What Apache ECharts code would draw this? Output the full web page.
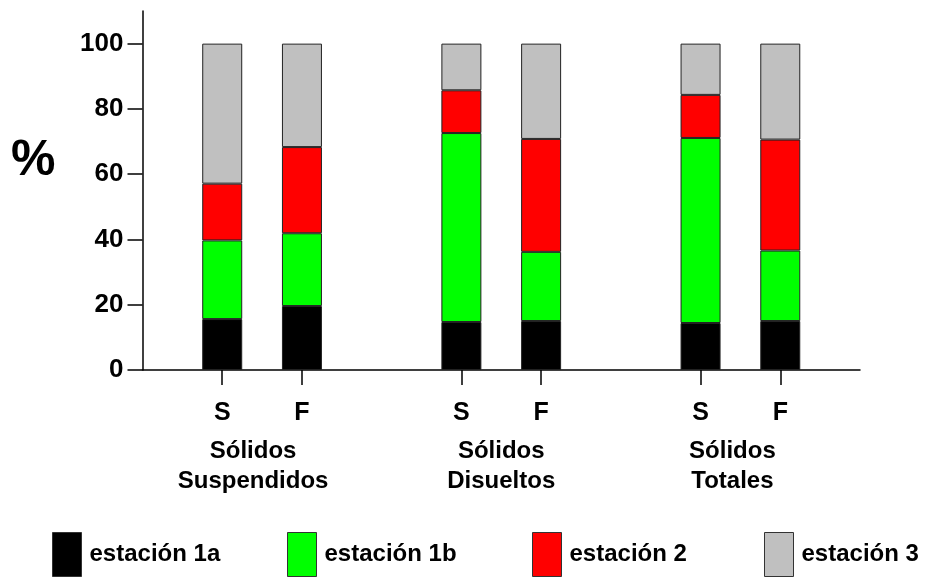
<!DOCTYPE html>
<html>
<head>
<meta charset="utf-8">
<script src="https://cdn.jsdelivr.net/npm/echarts@6/dist/echarts.min.js"></script>
<style>html,body{margin:0;padding:0;background:#fff}#c{width:928px;height:577px}</style>
</head>
<body>
<div id="c"></div>
<script>
// ---- data ----
const groups = ['Sólidos\nSuspendidos', 'Sólidos\nDisueltos', 'Sólidos\nTotales'];
const barLabels = ['S', 'F', 'S', 'F', 'S', 'F'];
const seriesNames = ['estación 1a', 'estación 1b', 'estación 2', 'estación 3'];
const est1a = [15.6, 19.6, 14.7, 15.0, 14.4, 15.0];
const est1b = [24.1, 22.3, 57.9, 21.2, 56.7, 21.6];
const est2  = [17.4, 26.4, 13.1, 34.6, 13.2, 34.0];
const est3  = [42.9, 31.7, 14.3, 29.2, 15.7, 29.4];
const yTicks = [0, 20, 40, 60, 80, 100];
const colors = ['#000000', '#00ff00', '#ff0000', '#c0c0c0'];

// ---- build padded category layout (gap slot between groups) ----
const perGroup = barLabels.length / groups.length;
const cats = [];
const groupCats = [];
const idxMap = [];
groups.forEach((g, gi) => {
  cats.push('');
  groupCats.push('', g, '');
  for (let k = 0; k < perGroup; k++) {
    idxMap.push(cats.length);
    cats.push(barLabels[gi * perGroup + k]);
  }
});
cats.push('');
function pad(arr) {
  const out = cats.map(() => null);
  arr.forEach((v, i) => { out[idxMap[i]] = v; });
  return out;
}
const allData = [est1a, est1b, est2, est3];
const FF = '"Liberation Sans", Arial, sans-serif';
// per-group label nudge (right padding shifts the centred block left)
const groupNudge = [18, 0, 16];

const chart = echarts.init(document.getElementById('c'), null, { renderer: 'canvas' });
const legendLefts = [47, 282, 527, 759];
const groupRich = {};
groupNudge.forEach((p, i) => {
  groupRich['g' + i] = { fontFamily: FF, fontWeight: 'bold', fontSize: 24, color: '#000', lineHeight: 30, padding: [0, p, 0, 0] };
});
chart.setOption({
  animation: false,
  backgroundColor: '#ffffff',
  title: {
    text: '%', left: 6, top: 131,
    textStyle: { fontFamily: FF, fontWeight: 'bold', fontSize: 50, color: '#000' }
  },
  legend: seriesNames.map((n, i) => ({
    data: [n], left: legendLefts[i], top: 527,
    itemWidth: 29, itemHeight: 44, icon: 'rect',
    itemStyle: { borderColor: '#333', borderWidth: 1 },
    textStyle: { fontFamily: FF, fontWeight: 'bold', fontSize: 24, color: '#000', padding: [0, 0, 0, 3] },
    selectedMode: false
  })),
  grid: { left: 142.5, right: 68, top: 11, bottom: 207, containLabel: false },
  xAxis: [
    {
      type: 'category', data: cats, boundaryGap: false,
      axisLine: { lineStyle: { color: '#000', width: 1.5 } },
      axisTick: { length: 15, interval: (i, v) => v !== '', lineStyle: { color: '#000', width: 1.5 } },
      axisLabel: { interval: 0, margin: 31, fontFamily: FF, fontWeight: 'bold', fontSize: 25, color: '#000' },
      splitLine: { show: false }
    },
    {
      type: 'category', data: groupCats, boundaryGap: true, position: 'bottom',
      axisLine: { show: false }, axisTick: { show: false },
      axisLabel: {
        interval: 0, margin: 66, lineHeight: 30, fontFamily: FF, fontWeight: 'bold', fontSize: 24, color: '#000',
        formatter: (v) => {
          const gi = groups.indexOf(v);
          if (gi < 0) return '';
          return v.split('\n').map(s => '{g' + gi + '|' + s + '}').join('\n');
        },
        rich: groupRich
      },
      splitLine: { show: false }
    }
  ],
  yAxis: {
    type: 'value', min: 0, max: 110,
    axisLine: { show: true, lineStyle: { color: '#000', width: 1.5 } },
    axisTick: { show: true, length: 15, customValues: yTicks, lineStyle: { color: '#000', width: 1.5 } },
    axisLabel: { customValues: yTicks, margin: 19, fontFamily: FF, fontWeight: 'bold', fontSize: 26, color: '#000' },
    splitLine: { show: false }
  },
  series: seriesNames.map((n, i) => ({
    name: n, type: 'bar', stack: 'total', barWidth: 40,
    xAxisIndex: 0,
    data: pad(allData[i]),
    itemStyle: { color: colors[i], borderColor: '#222', borderWidth: 1 }
  }))
});
</script>
</body>
</html>
